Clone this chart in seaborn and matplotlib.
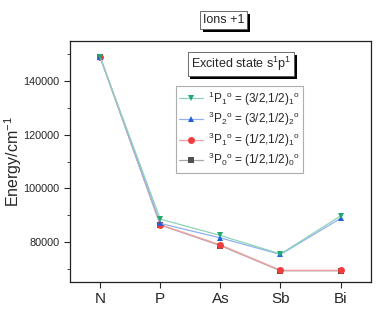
import pandas as pd
import matplotlib.pyplot as plt
import matplotlib.patheffects as pe
from matplotlib.colors import to_rgb
from matplotlib.lines import Line2D
import seaborn as sns

# data
elements = ['N', 'P', 'As', 'Sb', 'Bi']
p1_1 = [149000, 88500, 82400, 75500, 89700]   # 1P1o (3/2,1/2)1
p3_2 = [149000, 86900, 81500, 75300, 88800]   # 3P2o (3/2,1/2)2
p3_1 = [149000, 86400, 78900, 69400, 69400]   # 3P1o (1/2,1/2)1
p3_0 = [149000, 86300, 78600, 69200, 69200]   # 3P0o (1/2,1/2)0

labels = [r'$^{1}$P$_{1}$$^{\mathrm{o}}$ = (3/2,1/2)$_{1}$$^{\mathrm{o}}$',
          r'$^{3}$P$_{2}$$^{\mathrm{o}}$ = (3/2,1/2)$_{2}$$^{\mathrm{o}}$',
          r'$^{3}$P$_{1}$$^{\mathrm{o}}$ = (1/2,1/2)$_{1}$$^{\mathrm{o}}$',
          r'$^{3}$P$_{0}$$^{\mathrm{o}}$ = (1/2,1/2)$_{0}$$^{\mathrm{o}}$']
colors = ['#1fa870', '#2060e0', '#f03c3c', '#505050']
markers = ['v', '^', 'o', 's']

df = pd.DataFrame({'x': list(range(5)) * 4,
                   'energy': p1_1 + p3_2 + p3_1 + p3_0,
                   'state': sum([[l] * 5 for l in labels], [])})


def light(c, f=0.5):
    r, g, b = to_rgb(c)
    return (r + (1 - r) * f, g + (1 - g) * f, b + (1 - b) * f)


sns.set_style('ticks')
plt.rcParams['font.family'] = ['Liberation Sans', 'DejaVu Sans']
plt.rcParams['mathtext.fontset'] = 'custom'
plt.rcParams['mathtext.rm'] = 'Liberation Sans'

fig, ax = plt.subplots(figsize=(3.79, 3.11), dpi=100)
fig.subplots_adjust(left=0.185, right=0.978, top=0.868, bottom=0.093)

# draw back to front so green ends on top
for lab, c, m in list(zip(labels, colors, markers))[::-1]:
    sub = df[df.state == lab]
    sns.lineplot(data=sub, x='x', y='energy', color=light(c), marker=m, markersize=5,
                 markeredgewidth=0, markerfacecolor=c, lw=0.9, ax=ax)

ax.set_xlim(-0.5, 4.5)
ax.set_ylim(65000, 155000)
ax.set_xticks(range(5))
ax.set_xticklabels(elements, fontsize=11)
ax.set_yticks([80000, 100000, 120000, 140000])
ax.set_yticks([70000, 90000, 110000, 130000, 150000], minor=True)
ax.tick_params(axis='y', labelsize=7.8, direction='out', length=4)
ax.tick_params(axis='y', which='minor', length=2.5)
ax.tick_params(axis='x', direction='out', length=4)
ax.set_xlabel('')
ax.set_ylabel('Energy/cm$^{-1}$', fontsize=11.5)
ax.yaxis.set_label_coords(-0.152, 0.5)
for s in ax.spines.values():
    s.set_linewidth(0.9)
    s.set_color('#222222')

handles = [Line2D([], [], color=light(c), marker=m, markersize=5, markeredgewidth=0,
                  markerfacecolor=c, lw=0.9) for c, m in zip(colors, markers)]
leg = ax.legend(handles, labels, loc='upper left', bbox_to_anchor=(0.352, 0.814),
                borderaxespad=0, fontsize=8.5, frameon=True, fancybox=False,
                handlelength=2.0, borderpad=0.3, labelspacing=0.2, handletextpad=0.4)
leg.get_frame().set_edgecolor('#999999')
leg.get_frame().set_linewidth(0.8)

shadow = [pe.SimplePatchShadow(offset=(2, -2), shadow_rgbFace='k', alpha=1), pe.Normal()]
t1 = fig.text(0.59, 0.935, 'Ions +1', ha='center', va='center', fontsize=9,
              bbox=dict(boxstyle='square,pad=0.25', fc='white', ec='#555555', lw=0.6))
t2 = ax.text(0.568, 0.905, 'Excited state s$^{1}$p$^{1}$', transform=ax.transAxes,
             ha='center', va='center', fontsize=9,
             bbox=dict(boxstyle='square,pad=0.25', fc='white', ec='#555555', lw=0.6))
for t in (t1, t2):
    t.get_bbox_patch().set_path_effects(shadow)

fig.savefig('out.png', dpi=100)
